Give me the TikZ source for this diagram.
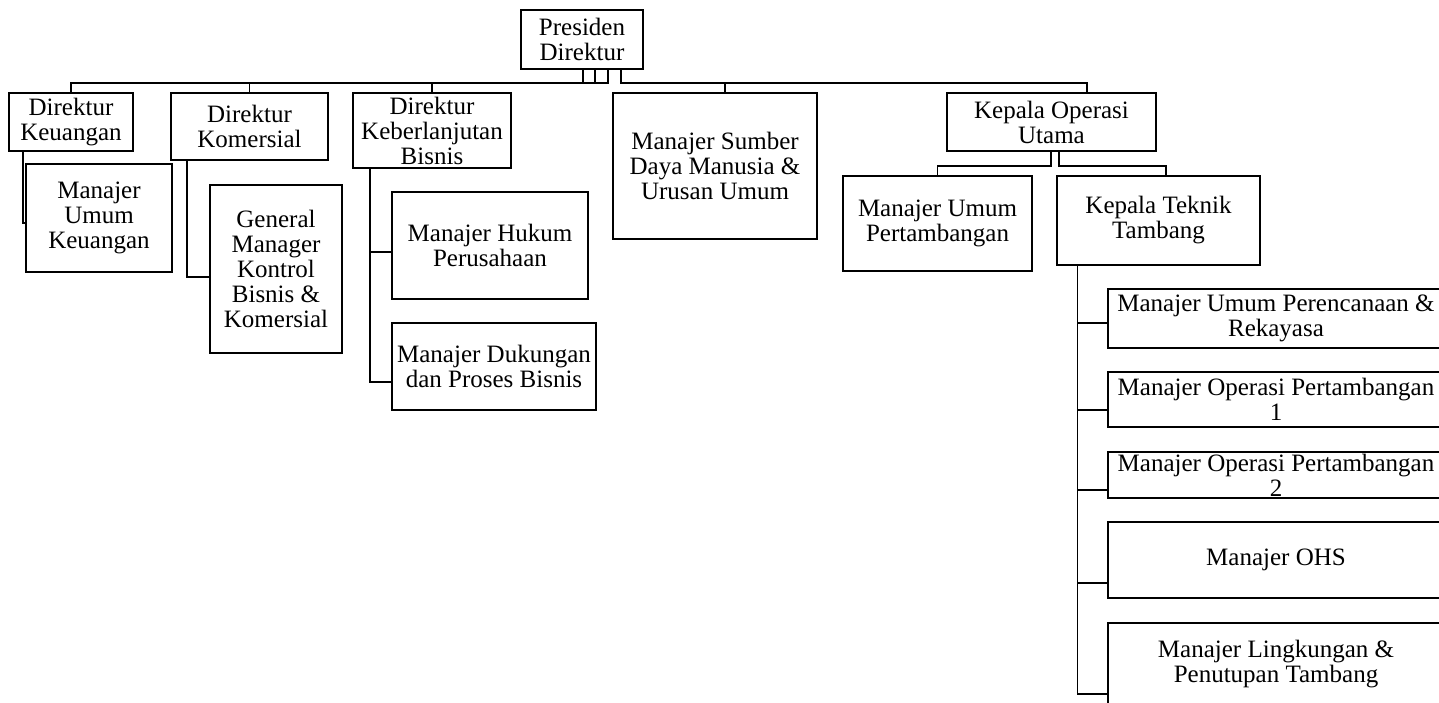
\documentclass[tikz,border=0pt]{standalone}
\usepackage{fontspec}
\setmainfont{Liberation Serif}
\usepackage{tikz}
\usetikzlibrary{positioning}

\begin{document}
\begin{tikzpicture}[x=1pt,y=-1pt,
    post/.style={draw=black,line width=1.8pt,align=center,inner sep=2pt,
      font=\fontsize{25}{25}\selectfont},
    link/.style={draw=black,line width=1.8pt}
  ]
    \useasboundingbox (0,0) rectangle (1439,703);
    \clip (0,0) rectangle (1439,703);
    % top level
    \node[post,minimum width=122pt,minimum height=59pt] (pres) at (582,39.5) {Presiden\\Direktur};
    \node[post,minimum width=124pt,minimum height=58pt] (dkeu) at (71,122) {Direktur\\Keuangan};
    \node[post,minimum width=157pt,minimum height=67pt] (dkom) at (249.5,126.5) {Direktur\\Komersial};
    \node[post,minimum width=158pt,minimum height=75pt] (dkb) at (432,130.5) {Direktur\\Keberlanjutan\\Bisnis};
    \node[post,minimum width=204pt,minimum height=146pt] (msdm) at (715,166) {Manajer Sumber\\Daya Manusia \&\\Urusan Umum};
    \node[post,minimum width=209pt,minimum height=58pt] (kou) at (1051.5,122) {Kepala Operasi\\Utama};
    % under the directors
    \node[post,minimum width=146pt,minimum height=108pt] (muk) at (99,218) {Manajer\\Umum\\Keuangan};
    \node[post,minimum width=132pt,minimum height=168pt] (gm) at (276,269) {General\\Manager\\Kontrol\\Bisnis \&\\Komersial};
    \node[post,minimum width=196pt,minimum height=107pt] (mhp) at (490,245.5) {Manajer Hukum\\Perusahaan};
    \node[post,minimum width=204pt,minimum height=87pt] (mdpb) at (494,366.5) {Manajer Dukungan\\dan Proses Bisnis};
    \node[post,minimum width=189pt,minimum height=95pt] (mup) at (937.5,223.5) {Manajer Umum\\Pertambangan};
    \node[post,minimum width=203pt,minimum height=89pt] (ktt) at (1158.5,220.5) {Kepala Teknik\\Tambang};
    % under Kepala Teknik Tambang
    \node[post,minimum width=336pt,minimum height=59pt] (rp1) at (1276,318.5) {Manajer Umum Perencanaan \&\\Rekayasa};
    \node[post,minimum width=336pt,minimum height=55pt] (rp2) at (1276,399.5) {Manajer Operasi Pertambangan\\1};
    \node[post,minimum width=336pt,minimum height=46pt] (rp3) at (1276,475) {Manajer Operasi Pertambangan\\2};
    \node[post,minimum width=336pt,minimum height=76pt] (rp4) at (1276,560) {Manajer OHS};
    \node[post,minimum width=336pt,minimum height=83pt] (rp5) at (1276,664.5) {Manajer Lingkungan \&\\Penutupan Tambang};
    % connectors
    \draw[link] ([xshift=1pt]pres.south) -- ++(0,13) -| (dkeu.north);
    \draw[link] ([xshift=13pt]pres.south) -- ++(0,13) -| (dkom.north);
    \draw[link] ([xshift=26pt]pres.south) -- ++(0,13) -| (dkb.north);
    \draw[link] ([xshift=39pt]pres.south) -- ++(0,13) -| ([xshift=10pt]msdm.north);
    \draw[link] ([xshift=39pt]pres.south) -- ++(0,13) -| ([xshift=35.5pt]kou.north);
    \draw[link] ([xshift=-48pt]dkeu.south) |- ([yshift=-5pt]muk.west);
    \draw[link] ([xshift=-62.5pt]dkom.south) |- ([yshift=-8pt]gm.west);
    \draw[link] ([xshift=-62pt]dkb.south) |- ([yshift=-6.5pt]mhp.west);
    \draw[link] ([xshift=-62pt]dkb.south) |- ([yshift=-15.5pt]mdpb.west);
    \draw[link] ([xshift=-0.5pt]kou.south) -- ++(0,14) -| (mup.north);
    \draw[link] ([xshift=7.5pt]kou.south) -- ++(0,14) -| ([xshift=7.5pt]ktt.north);
    \draw[link] ([xshift=-81pt]ktt.south) |- ([yshift=-4.5pt]rp1.west);
    \draw[link] ([xshift=-81pt]ktt.south) |- ([yshift=-10.5pt]rp2.west);
    \draw[link] ([xshift=-81pt]ktt.south) |- ([yshift=-15pt]rp3.west);
    \draw[link] ([xshift=-81pt]ktt.south) |- ([yshift=-23pt]rp4.west);
    \draw[link] ([xshift=-81pt]ktt.south) |- ([yshift=-29.5pt]rp5.west);
  \end{tikzpicture}
\end{document}
